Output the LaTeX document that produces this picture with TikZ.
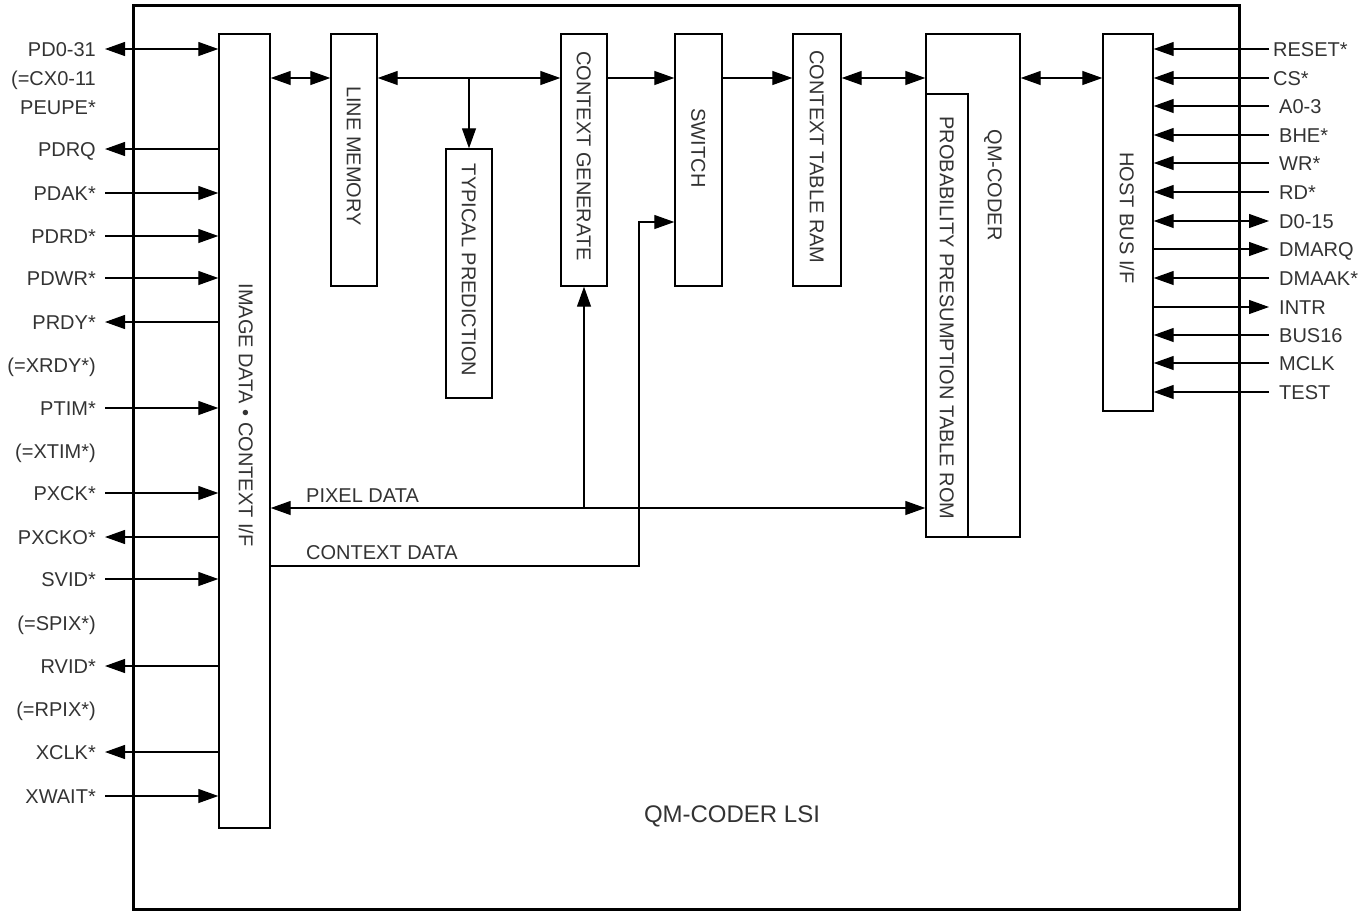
\documentclass[tikz,border=0pt]{standalone}
\usepackage{fontspec}
\setmainfont{Liberation Sans}
\usetikzlibrary{arrows.meta}
\definecolor{txt}{HTML}{333333}
\begin{document}
\begin{tikzpicture}[x=1pt,y=-1pt,
  blk/.style={draw, line width=1.4pt, inner sep=0pt, fill=white},
  rtxt/.style={rotate=-90, text=txt, inner sep=0pt, text height=14.5pt, text depth=0pt, anchor=center, font=\fontsize{20}{24}\selectfont},
  lbl/.style={text=txt, inner sep=0pt, font=\fontsize{20}{24}\selectfont},
  con/.style={line width=1.2pt},
  arr/.style={con, -{Triangle[length=20pt,width=14pt]}},
  biarr/.style={con, {Triangle[length=20pt,width=14pt]}-{Triangle[length=20pt,width=14pt]}}
]
\useasboundingbox (0,0) rectangle (1370,911);
% chip frame
\node[draw, line width=3pt, inner sep=0pt, minimum width=1106, minimum height=904] (chip) at (686,457) {};
% blocks
\node[blk, minimum width=51, minimum height=794] (img) at (244.5,431) {};
\node[blk, minimum width=46, minimum height=252] (linemem) at (354,160) {};
\node[blk, minimum width=46, minimum height=249] (typpred) at (469,273.5) {};
\node[blk, minimum width=46, minimum height=252] (ctxgen) at (584,160) {};
\node[blk, minimum width=47, minimum height=252] (switch) at (698.5,160) {};
\node[blk, minimum width=48, minimum height=252] (ctxram) at (817,160) {};
\node[blk, minimum width=94, minimum height=503] (qm) at (973,285.5) {};
\node[blk, minimum width=42, minimum height=443] (rom) at (947,315.5) {};
\node[blk, minimum width=50, minimum height=377] (host) at (1128,222.5) {};
% block texts
\node[rtxt] (timg) at (246,415) {IMAGE DATA • CONTEXT I/F};
\node[rtxt] (tlinemem) at (354,156) {LINE MEMORY};
\node[rtxt] (ttyp) at (469,270) {TYPICAL PREDICTION};
\node[rtxt] (tctxgen) at (584,156) {CONTEXT GENERATE};
\node[rtxt] (tswitch) at (698.5,148) {SWITCH};
\node[rtxt] (tctxram) at (817,157) {CONTEXT TABLE RAM};
\node[rtxt] (tqm) at (995,185) {QM-CODER};
\node[rtxt] (trom) at (947,318) {PROBABILITY PRESUMPTION TABLE ROM};
\node[rtxt] (thost) at (1127,218) {HOST BUS I/F};
\node[text=txt, inner sep=0pt, font=\fontsize{24}{28}\selectfont, anchor=base] (tlsi) at (732,822) {QM-CODER LSI};
% internal buses
\coordinate (ybus) at (0,78);
\coordinate (ypix) at (0,508);
\coordinate (yctx) at (0,566);
\coordinate (ysw) at (0,222);
\coordinate (xctx) at (639,0);
\draw[biarr] (img.east |- ybus) -- (linemem.west |- ybus);
\draw[biarr] (linemem.east |- ybus) -- (ctxgen.west |- ybus);
\draw[arr] (typpred.north |- ybus) -- (typpred.north);
\draw[arr] (ctxgen.east |- ybus) -- (switch.west |- ybus);
\draw[arr] (switch.east |- ybus) -- (ctxram.west |- ybus);
\draw[biarr] (ctxram.east |- ybus) -- (qm.west |- ybus);
\draw[biarr] (qm.east |- ybus) -- (host.west |- ybus);
\draw[biarr] (img.east |- ypix) -- (rom.west |- ypix);
\draw[arr] (ctxgen.south |- ypix) -- (ctxgen.south);
\draw[arr] (img.east |- yctx) -| (xctx |- ysw) -- (switch.west |- ysw);
\node[lbl, anchor=base west] (tpix) at (306,502) {PIXEL DATA};
\node[lbl, anchor=base west] (tctx) at (306,559) {CONTEXT DATA};
% left signals
\foreach \y/\t in {49/PD0-31, 78/{(=CX0-11}, 107/PEUPE*, 149/PDRQ, 193/PDAK*, 236/PDRD*, 278/PDWR*, 322/PRDY*, 365/{(=XRDY*)}, 408/PTIM*, 451/{(=XTIM*)}, 493/PXCK*, 537/PXCKO*, 579/SVID*, 623/{(=SPIX*)}, 666/RVID*, 709/{(=RPIX*)}, 752/XCLK*, 796/XWAIT*}
  \node[lbl, anchor=base east] (L\y) at (96,\y+7) {\t};
\foreach \y in {49,149,193,236,278,322,408,493,537,579,666,752,796}
  \coordinate (lp\y) at (105,\y);
\draw[biarr] (lp49) -- (lp49 -| img.west);
\foreach \y in {149,322,537,666,752}
  \draw[arr] (lp\y -| img.west) -- (lp\y);
\foreach \y in {193,236,278,408,493,579,796}
  \draw[arr] (lp\y) -- (lp\y -| img.west);
% right signals
\foreach \y/\t in {49/RESET*, 78/CS*}
  \node[lbl, anchor=base west] (R\y) at (1273,\y+7) {\t};
\foreach \y/\t in {106/A0-3, 135/BHE*, 163/WR*, 192/RD*, 221/D0-15, 249/DMARQ, 278/DMAAK*, 307/INTR, 335/BUS16, 363/MCLK, 392/TEST}
  \node[lbl, anchor=base west] (R\y) at (1279,\y+7) {\t};
\foreach \y in {49,78,106,135,163,192,221,249,278,307,335,363,392}
  \coordinate (rp\y) at (1269,\y);
\foreach \y in {49,78,106,135,163,192,278,335,363,392}
  \draw[arr] (rp\y) -- (rp\y -| host.east);
\draw[biarr] (rp221 -| host.east) -- (rp221);
\foreach \y in {249,307}
  \draw[arr] (rp\y -| host.east) -- (rp\y);
\end{tikzpicture}
\end{document}
